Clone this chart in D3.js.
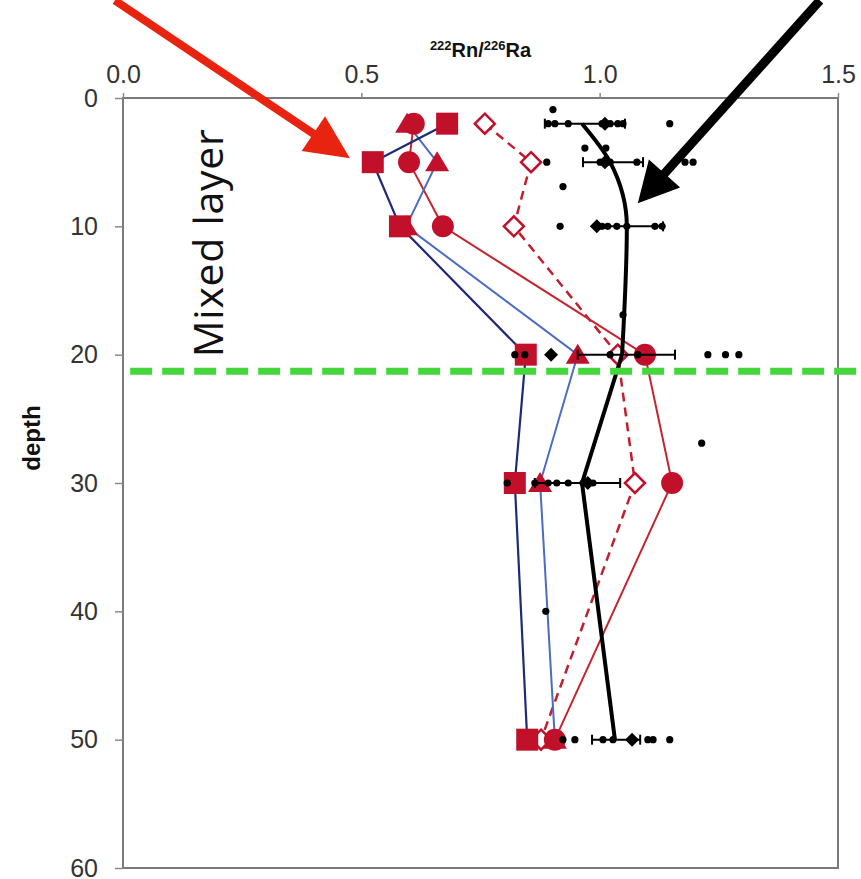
<!DOCTYPE html>
<html><head><meta charset="utf-8">
<script src="https://cdn.jsdelivr.net/npm/d3@7"></script>
<style>html,body{margin:0;padding:0;background:#fff}svg{display:block}</style>
</head><body>
<svg id="c" width="861" height="879"></svg>
<script>
// ---- data ----
const depths = [2, 5, 10, 20, 30, 50];
const squareSeries   = [0.680, 0.524, 0.581, 0.845, 0.822, 0.848];
const triangleSeries = [0.596, 0.659, 0.594, 0.954, 0.875, 0.906];
const circleSeries   = [0.610, 0.600, 0.671, 1.095, 1.152, 0.906];
const diamondSeries  = [0.759, 0.856, 0.820, 1.038, 1.074, 0.877];
const meanLine       = [0.963, 1.022, 1.057, 1.047, 0.963, 1.032];
const sdLow          = [0.885, 0.965, 0.994, 0.954, 0.864, 0.984];
const sdHigh         = [1.053, 1.091, 1.133, 1.158, 1.043, 1.085];
const meanDiamonds   = [1.011, 1.011, 0.994, 0.898, 0.975, 1.068];
const dotDepth = [0.9,
  2,2,2,2,2,2,2,2,
  3.9,3.9,
  5,5,5,5,5,5,
  6.9,
  10,10,10,10,10,10,10,
  16.9,
  20,20,20,20,20,20,20,
  26.9,
  30,30,30,30,30,30,30,
  40,
  50,50,50,50,50,50,50];
const dotValue = [0.902,
  0.892,0.906,0.934,1.005,1.022,1.038,1.049,1.147,
  0.969,1.013,
  0.889,1.001,1.022,1.078,1.179,1.196,
  0.923,
  0.917,1.005,1.017,1.036,1.057,1.116,1.131,
  1.049,
  0.822,0.843,1.022,1.080,1.227,1.264,1.292,
  1.214,
  0.806,0.864,0.892,0.910,0.934,0.965,0.986,
  0.887,
  0.923,0.948,1.007,1.028,1.101,1.112,1.147];
const xTicks = [0, 0.5, 1.0, 1.5];
const yTicks = [0, 10, 20, 30, 40, 50, 60];
const mixedLayerDepth = 21.3;
const titleMain = ["Rn/", "Ra"], titleSup = ["222", "226"];
const yLabel = "depth";
const annotationText = "Mixed layer";
const redArrow = {from: [-0.017, -7.6], to: [0.476, 4.69]};
const blackArrow = {from: [1.462, -7.6], to: [1.080, 8.2]};

// ---- layout ----
const svg = d3.select("#c");
const x = d3.scaleLinear().domain([0, 1.5]).range([123, 838]);
const y = d3.scaleLinear().domain([0, 60]).range([98, 868]);
const markRed = "#c0102a";

// frame
svg.append("rect").attr("x", x(0)).attr("y", y(0))
  .attr("width", x(1.5) - x(0)).attr("height", y(60) - y(0))
  .attr("fill", "none").attr("stroke", "#7a7a7a").attr("stroke-width", 2);

const fontTick = "'Liberation Sans', Arial, sans-serif";
const ax = svg.append("g").attr("transform", `translate(0,${y(0)})`)
  .call(d3.axisTop(x).tickValues(xTicks).tickFormat(d3.format(".1f")).tickSize(5).tickPadding(10));
const ay = svg.append("g").attr("transform", `translate(${x(0)},0)`)
  .call(d3.axisLeft(y).tickValues(yTicks).tickFormat(d3.format("d")).tickSize(8).tickPadding(17));
[ax, ay].forEach(a => {
  a.select(".domain").remove();
  a.selectAll("line").attr("stroke", "#8a8a8a").attr("stroke-width", 1.5);
  a.selectAll("text").attr("font-family", fontTick).attr("font-size", 25).attr("fill", "#333");
});

// title
const t = svg.append("text").attr("x", (x(0) + x(1.5)) / 2).attr("y", 57)
  .attr("text-anchor", "middle").attr("font-family", fontTick).attr("font-weight", "bold")
  .attr("font-size", 20).attr("fill", "#111");
for (let i = 0; i < 2; i++) {
  t.append("tspan").attr("font-size", 13).attr("dy", -7).text(titleSup[i]);
  t.append("tspan").attr("dy", 7).text(titleMain[i]);
}
// y label
svg.append("text").attr("transform", `translate(40,438) rotate(-90)`)
  .attr("text-anchor", "middle").attr("font-family", fontTick).attr("font-weight", "bold")
  .attr("font-size", 24).attr("fill", "#111").text(yLabel);

// mixed layer text
svg.append("text").attr("transform", `translate(${x(0.21)},${y(20.2)}) rotate(-90)`)
  .attr("font-family", "'Open Sans', sans-serif").attr("font-size", 41)
  .attr("letter-spacing", 0.7).attr("fill", "#111")
  .text(annotationText);

// series lines
const lineGen = d3.line().x(d => x(d[0])).y(d => y(d[1]));
function series(vals) { return vals.map((v, i) => [v, depths[i]]); }
svg.append("path").attr("d", lineGen(series(diamondSeries))).attr("fill", "none")
  .attr("stroke", "#c0202e").attr("stroke-width", 2.5).attr("stroke-dasharray", "9,6");
svg.append("path").attr("d", lineGen(series(circleSeries))).attr("fill", "none")
  .attr("stroke", "#c42630").attr("stroke-width", 2);
svg.append("path").attr("d", lineGen(series(triangleSeries))).attr("fill", "none")
  .attr("stroke", "#4a6cc4").attr("stroke-width", 2);
svg.append("path").attr("d", lineGen(series(squareSeries))).attr("fill", "none")
  .attr("stroke", "#1e2a78").attr("stroke-width", 2.2);

// markers
svg.append("g").selectAll("path").data(series(diamondSeries)).join("path")
  .attr("transform", d => `translate(${x(d[0])},${y(d[1])})`)
  .attr("d", "M0,-10L10,0L0,10L-10,0Z").attr("fill", "#fff")
  .attr("stroke", markRed).attr("stroke-width", 2.5);
svg.append("g").selectAll("circle").data(series(circleSeries)).join("circle")
  .attr("cx", d => x(d[0])).attr("cy", d => y(d[1])).attr("r", 11).attr("fill", markRed);
svg.append("g").selectAll("path").data(series(triangleSeries)).join("path")
  .attr("transform", d => `translate(${x(d[0])},${y(d[1])})`)
  .attr("d", "M0,-11L12,9L-12,9Z").attr("fill", markRed);
svg.append("g").selectAll("rect").data(series(squareSeries)).join("rect")
  .attr("x", d => x(d[0]) - 11).attr("y", d => y(d[1]) - 11)
  .attr("width", 22).attr("height", 22).attr("fill", markRed);

// mean line: smooth in the upper part, straight below 20 m
const meanPts = series(meanLine);
const splitAt = depths.indexOf(20);
svg.append("path").attr("d", d3.line().curve(d3.curveMonotoneY)
  .x(d => x(d[0])).y(d => y(d[1]))(meanPts.slice(0, splitAt + 1)))
  .attr("fill", "none").attr("stroke", "#000").attr("stroke-width", 4).attr("stroke-linejoin", "round");
svg.append("path").attr("d", lineGen(meanPts.slice(splitAt)))
  .attr("fill", "none").attr("stroke", "#000").attr("stroke-width", 4).attr("stroke-linejoin", "round");

// error bars
const eb = svg.append("g").attr("stroke", "#000").attr("stroke-width", 2);
depths.forEach((dp, i) => {
  eb.append("line").attr("x1", x(sdLow[i])).attr("x2", x(sdHigh[i])).attr("y1", y(dp)).attr("y2", y(dp));
  [sdLow[i], sdHigh[i]].forEach(v => eb.append("line").attr("x1", x(v)).attr("x2", x(v))
    .attr("y1", y(dp) - 5).attr("y2", y(dp) + 5));
});
// dots
svg.append("g").selectAll("circle").data(dotValue.map((v, i) => [v, dotDepth[i]])).join("circle")
  .attr("cx", d => x(d[0])).attr("cy", d => y(d[1])).attr("r", 3.6).attr("fill", "#000");
// mean diamonds
svg.append("g").selectAll("path").data(series(meanDiamonds)).join("path")
  .attr("transform", d => `translate(${x(d[0])},${y(d[1])})`)
  .attr("d", "M0,-7L7,0L0,7L-7,0Z").attr("fill", "#000");

// mixed layer dashed line
svg.append("line").attr("x1", x(0.015)).attr("x2", 861)
  .attr("y1", y(mixedLayerDepth)).attr("y2", y(mixedLayerDepth))
  .attr("stroke", "#44d63c").attr("stroke-width", 7).attr("stroke-dasharray", "22,10");

// arrows
function arrow(a, color, w, len, half) {
  const x0 = x(a.from[0]), y0 = y(a.from[1]), x1 = x(a.to[0]), y1 = y(a.to[1]);
  const L = Math.hypot(x1 - x0, y1 - y0), ux = (x1 - x0) / L, uy = (y1 - y0) / L;
  const bx = x1 - ux * len, by = y1 - uy * len;
  svg.append("line").attr("x1", x0).attr("y1", y0).attr("x2", bx + ux * 4).attr("y2", by + uy * 4)
    .attr("stroke", color).attr("stroke-width", w);
  svg.append("path").attr("d", `M${x1},${y1}L${bx - uy * half},${by + ux * half}L${bx + uy * half},${by - ux * half}Z`)
    .attr("fill", color);
}
arrow(redArrow, "#e8230f", 8, 44, 21);
arrow(blackArrow, "#000", 9, 40, 21);
</script>
</body></html>
